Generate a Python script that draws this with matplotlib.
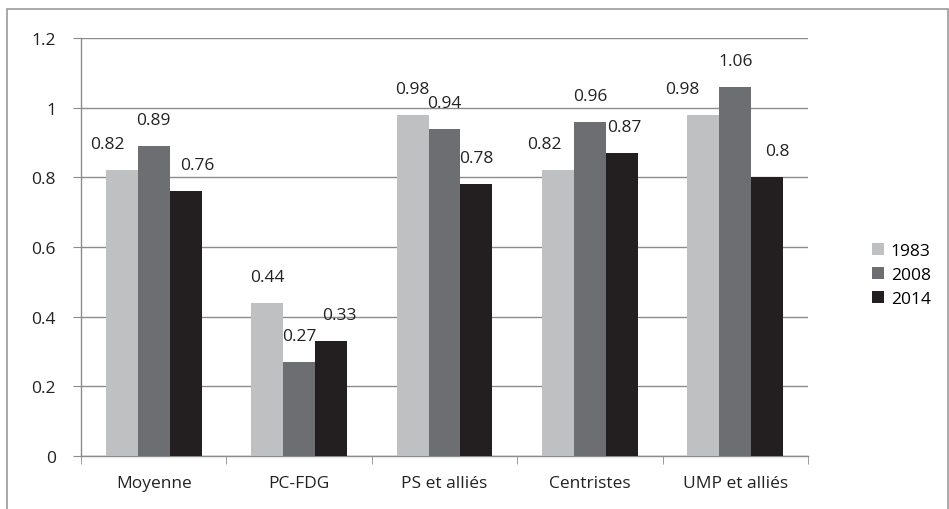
import numpy as np
import matplotlib.pyplot as plt
from matplotlib.patches import Rectangle

plt.rcParams['font.family'] = ['Open Sans', 'DejaVu Sans']

categories = ["Moyenne", "PC-FDG", "PS et alliés", "Centristes", "UMP et alliés"]
years = ["1983", "2008", "2014"]
v1983 = [0.82, 0.44, 0.98, 0.82, 0.98]
v2008 = [0.89, 0.27, 0.94, 0.96, 1.06]
v2014 = [0.76, 0.33, 0.78, 0.87, 0.80]
colors = ["#bfc0c2", "#6d6e71", "#231f20"]

# horizontal nudges (px) the original applied to crowded labels
nudge = [[-14, 0, 0, -14, -21],
         [0, 0, 0, 0, 0],
         [12, 8, 0, 2, 10]]

fig = plt.figure(figsize=(9.49, 5.10), dpi=100)
ax = fig.add_axes([81/949, 1 - 457/510, (808-81)/949, (457-39)/510])

# outer frame like the spreadsheet chart area
fig.patches.append(Rectangle((7/949, -0.05), (948-7)/949, 1 - 10/510 + 0.05,
                             transform=fig.transFigure, fill=False,
                             edgecolor="#999999", linewidth=1.2))

x = np.arange(len(categories))
w = 0.22
for i, (vals, col, yr) in enumerate(zip([v1983, v2008, v2014], colors, years)):
    pos = x + (i - 1) * w
    ax.bar(pos, vals, width=w, color=col, label=yr, zorder=3)
    for j, (px, v) in enumerate(zip(pos, vals)):
        ax.annotate("%g" % v, (px, v), xytext=(nudge[i][j] * 0.72, 13),
                    textcoords="offset points", ha="center", va="bottom",
                    fontsize=12.5, color="#222222")

ax.set_xlim(-0.5, len(categories) - 0.5)
ax.set_ylim(0, 1.2)
ax.set_yticks([0, 0.2, 0.4, 0.6, 0.8, 1, 1.2])
ax.set_yticklabels(["0", "0.2", "0.4", "0.6", "0.8", "1", "1.2"])
ax.yaxis.grid(True, color="#8c8c8c", linewidth=1, zorder=0)
ax.set_axisbelow(True)

ax.set_xticks(x)
ax.set_xticklabels(categories)
ax.set_xticks(np.arange(len(categories) + 1) - 0.5, minor=True)
ax.tick_params(axis="x", which="major", length=0, pad=14, labelsize=12.5, labelcolor="#222222")
ax.tick_params(axis="x", which="minor", length=6, color="#8c8c8c", direction="out")
ax.tick_params(axis="y", length=6, color="#8c8c8c", labelsize=12.5, labelcolor="#222222", pad=12)

for s in ["top", "right"]:
    ax.spines[s].set_visible(False)
for s in ["left", "bottom"]:
    ax.spines[s].set_color("#8c8c8c")
    ax.spines[s].set_linewidth(1)

leg = fig.legend(loc="upper left", bbox_to_anchor=(856/949, 1 - 228/510), frameon=False,
                 fontsize=12.5, handlelength=0.7, handleheight=0.7, handletextpad=0.4,
                 labelspacing=0.45)

fig.savefig("out.png", dpi=100)
